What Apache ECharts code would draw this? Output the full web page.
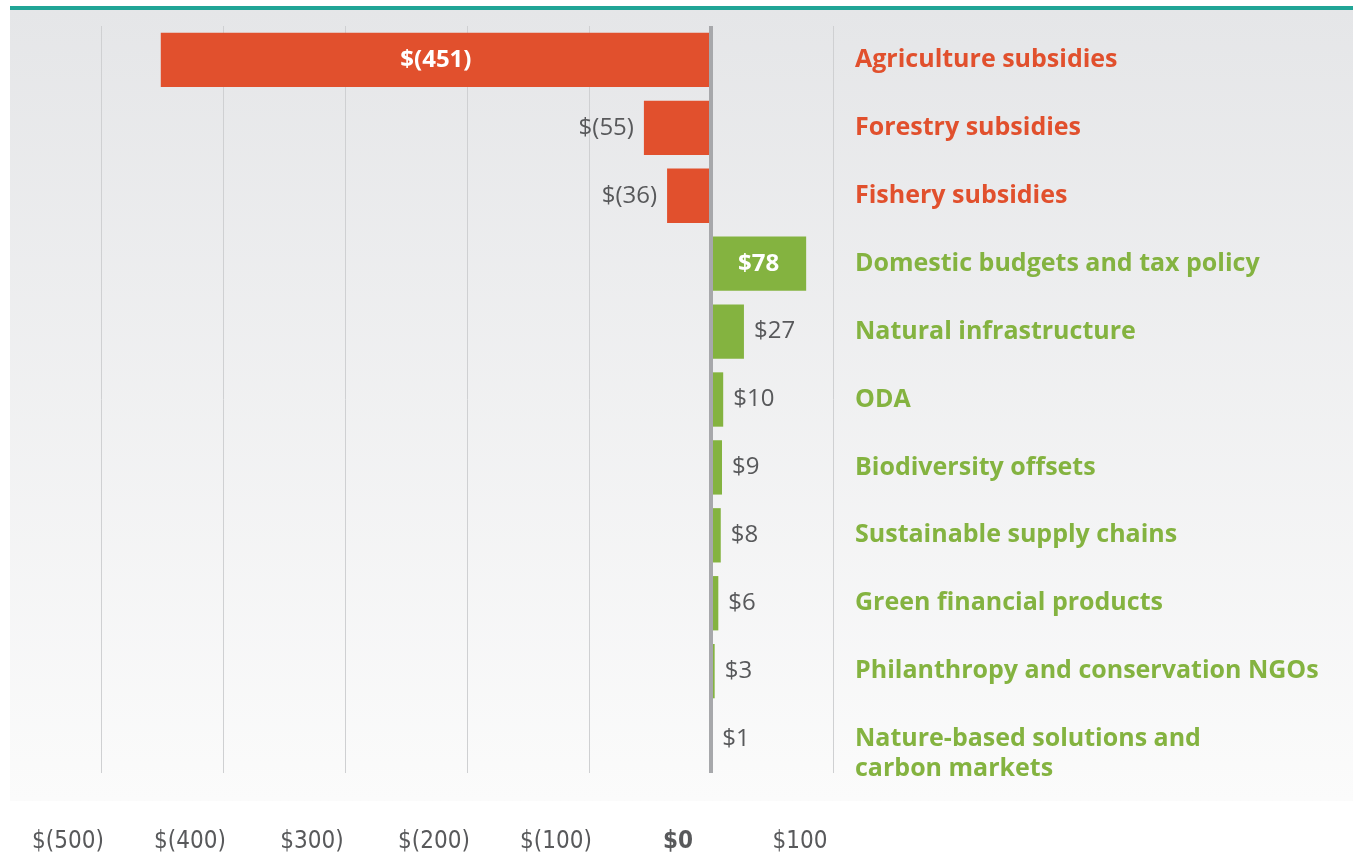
<!DOCTYPE html>
<html>
<head>
<meta charset="utf-8">
<script src="https://cdn.jsdelivr.net/npm/echarts@6/dist/echarts.min.js"></script>
<style>
  html, body { margin: 0; padding: 0; background: #fff; }
  #chart { width: 1353px; height: 857px; }
</style>
</head>
<body>
<div id="chart"></div>
<script>
var categories = ['Agriculture subsidies', 'Forestry subsidies', 'Fishery subsidies',
  'Domestic budgets and tax policy', 'Natural infrastructure', 'ODA', 'Biodiversity offsets',
  'Sustainable supply chains', 'Green financial products', 'Philanthropy and conservation NGOs',
  'Nature-based solutions and\ncarbon markets'];
var values = [-451, -55, -36, 78, 27, 10, 9, 8, 6, 3, 1];
var tickLabels = ['$(500)', '$(400)', '$300)', '$(200)', '$(100)', '$0', '$100'];

var RED = '#e1502d', GREEN = '#84b340';

function money(v) {
  return v < 0 ? '$(' + (-v) + ')' : '$' + v;
}

var myChart = echarts.init(document.getElementById('chart'));

var catData = categories.map(function (c, i) {
  return { value: c, textStyle: { color: values[i] < 0 ? RED : GREEN } };
});

var barData = values.map(function (v, i) {
  var big = Math.abs(v) > 50 && i !== 1;
  return {
    value: v,
    itemStyle: { color: v < 0 ? RED : GREEN },
    label: big ? {
      position: 'inside', color: '#fff', fontWeight: 'bold', fontSize: 24
    } : {
      position: v < 0 ? 'left' : 'right', color: '#58595b', fontSize: 24, distance: 10
    }
  };
});

var option = {
  animation: false,
  graphic: [
    { type: 'rect', silent: true, z: -10,
      shape: { x: 10, y: 9, width: 1343, height: 792 },
      style: { fill: new echarts.graphic.LinearGradient(0, 0, 0, 1, [
        { offset: 0, color: '#e5e6e8' }, { offset: 1, color: '#fbfbfb' }]) } },
    { type: 'rect', silent: true, z: -5,
      shape: { x: 10, y: 6, width: 1343, height: 4 },
      style: { fill: '#21a596' } }
  ],
  grid: { left: 101, right: 520, top: 26, bottom: 84 },
  xAxis: {
    type: 'value', min: -500, max: 100, interval: 100,
    axisLine: { show: false }, axisTick: { show: false },
    splitLine: { lineStyle: { color: '#cfd0d2', width: 1 } },
    axisLabel: {
      margin: 57, padding: [0, 66, 0, 0],
      fontFamily: '"Liberation Sans Narrow", "DejaVu Sans Condensed", sans-serif',
      fontSize: 24, color: '#58595b',
      formatter: function (v) {
        var t = tickLabels[Math.round((v + 500) / 100)];
        return v === 0 ? '{b|' + t + '}' : t;
      },
      rich: { b: { fontWeight: 'bold', fontSize: 24, color: '#58595b',
        fontFamily: '"Liberation Sans Narrow", "DejaVu Sans Condensed", sans-serif' } }
    }
  },
  yAxis: {
    type: 'category', inverse: true, position: 'right',
    data: catData,
    axisLine: { show: false }, axisTick: { show: false },
    axisLabel: {
      align: 'left', margin: 22, fontSize: 25, fontWeight: 'bold',
      fontFamily: '"Open Sans", Lato, sans-serif', lineHeight: 30,
      // two-line label: keep the first line level with its bar
      formatter: function (v) { return v.indexOf('\n') >= 0 ? ' \n' + v : v; }
    }
  },
  series: [{
    type: 'bar',
    data: barData,
    barCategoryGap: '20%',
    label: {
      show: true, fontFamily: '"Open Sans", sans-serif',
      formatter: function (p) { return money(p.value); }
    },
    markLine: {
      silent: true, symbol: 'none', label: { show: false },
      lineStyle: { color: '#a7a8ab', width: 4, type: 'solid' },
      data: [{ xAxis: 0 }]
    }
  }]
};
myChart.setOption(option);
</script>
</body>
</html>
